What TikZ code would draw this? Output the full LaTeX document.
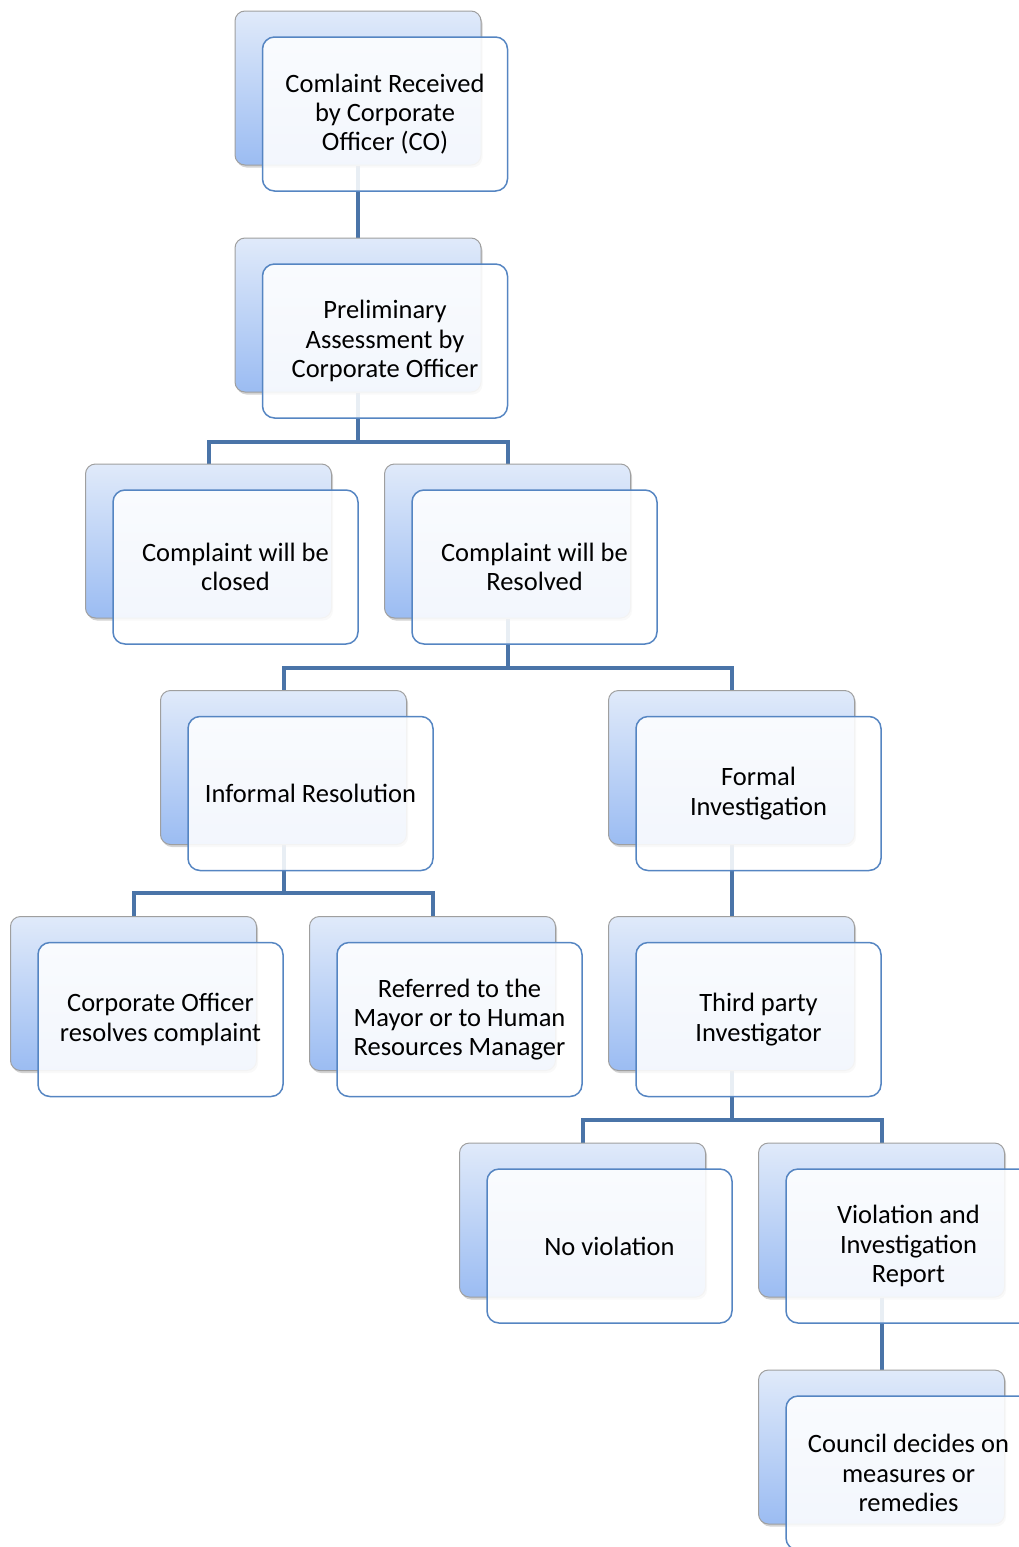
\documentclass[tikz,border=0pt]{standalone}
\usepackage{fontspec}
\setmainfont{Carlito}
\usetikzlibrary{shadows,backgrounds}
\definecolor{linkblue}{HTML}{4A74A8}
\definecolor{frameblue}{HTML}{5585C2}
\definecolor{backtop}{HTML}{E0EAFA}
\definecolor{backbot}{HTML}{9BBCF2}
\tikzset{
  backbox/.style={draw=gray!75, line width=1pt, rounded corners=10pt,
    minimum width=246pt, minimum height=154pt,
    top color=backtop, bottom color=backbot,
    drop shadow={shadow xshift=1.5pt, shadow yshift=-2.5pt, opacity=0.35}},
  frontbox/.style={draw=frameblue, line width=1.5pt, rounded corners=12pt,
    fill=white, fill opacity=0.88, text opacity=1,
    minimum width=245pt, minimum height=154pt, align=center,
    font=\fontsize{26.5}{29.3}\selectfont},
  link/.style={draw=linkblue, line width=4pt}
}
\begin{document}
\begin{tikzpicture}[x=1pt,y=1pt]
    \useasboundingbox (0,0) rectangle (1019,-1547);
    \clip (0,0) rectangle (1019,-1547);
    % back boxes
    \node[backbox] (received) at (358,-88){};
    \node[backbox] (prelim) at (358,-315){};
    \node[backbox] (closed) at (208.5,-541){};
    \node[backbox] (resolved) at (507.5,-541){};
    \node[backbox] (informal) at (283.5,-767.5){};
    \node[backbox] (formal) at (731.5,-767.5){};
    \node[backbox] (coresolves) at (133.5,-993.5){};
    \node[backbox] (referred) at (432.5,-993.5){};
    \node[backbox] (thirdparty) at (731.5,-993.5){};
    \node[backbox] (noviolation) at (582.5,-1220){};
    \node[backbox] (violation) at (881.5,-1220){};
    \node[backbox] (council) at (881.5,-1447){};
    % front boxes
    \node[frontbox] (receivedtxt) at (385,-114){Comlaint Received\\by Corporate\\Officer (CO)};
    \node[frontbox] (prelimtxt) at (385,-341){Preliminary\\Assessment by\\Corporate Officer};
    \node[frontbox] (closedtxt) at (235.5,-567){Complaint will be\\closed};
    \node[frontbox] (resolvedtxt) at (534.5,-567){Complaint will be\\Resolved};
    \node[frontbox] (informaltxt) at (310.5,-793.5){Informal Resolution};
    \node[frontbox] (formaltxt) at (758.5,-793.5){Formal\\Investigation};
    \node[frontbox] (coresolvestxt) at (160.5,-1019.5){Corporate Officer\\resolves complaint};
    \node[frontbox] (referredtxt) at (459.5,-1019.5){Referred to the\\Mayor or to Human\\Resources Manager};
    \node[frontbox] (thirdpartytxt) at (758.5,-1019.5){Third party\\Investigator};
    \node[frontbox] (noviolationtxt) at (609.5,-1246){No violation};
    \node[frontbox] (violationtxt) at (908.5,-1246){Violation and\\Investigation\\Report};
    \node[frontbox] (counciltxt) at (908.5,-1473){Council decides on\\measures or\\remedies};
    % connectors
    \begin{pgfonlayer}{background}
    \draw[link] (received.south) -- (prelim.north);
    \draw[link] (prelim.south) -- ++(0,-49) coordinate (split1) -| (closed.north);
    \draw[link] (split1) -| (resolved.north);
    \draw[link] (resolved.south) -- ++(0,-49) coordinate (split2) -| (informal.north);
    \draw[link] (split2) -| (formal.north);
    \draw[link] (informal.south) -- ++(0,-48) coordinate (split3) -| (coresolves.north);
    \draw[link] (split3) -| (referred.north);
    \draw[link] (formal.south) -- (thirdparty.north);
    \draw[link] (thirdparty.south) -- ++(0,-49) coordinate (split4) -| (noviolation.north);
    \draw[link] (split4) -| (violation.north);
    \draw[link] (violation.south) -- (council.north);
    \end{pgfonlayer}
\end{tikzpicture}
\end{document}
